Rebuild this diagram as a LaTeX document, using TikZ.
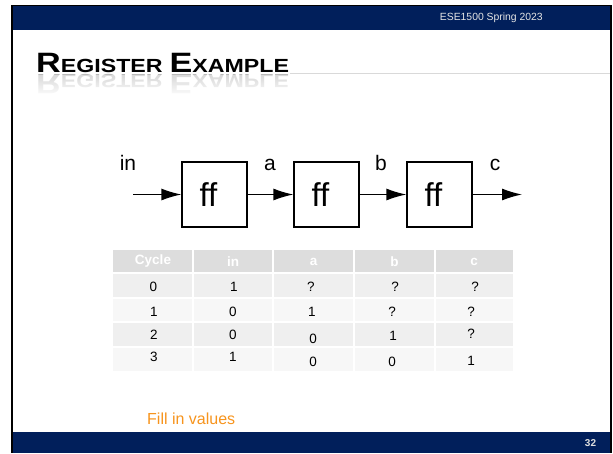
\documentclass[tikz,border=0pt]{standalone}
\usepackage{fontspec}
\setmainfont{Liberation Sans}
\newfontfamily\titlefont{Liberation Sans}[FakeStretch=1.22]
\usetikzlibrary{arrows.meta,fadings}

\definecolor{slidenavy}{RGB}{1,31,91}
\definecolor{hdrgray}{RGB}{221,221,221}
\definecolor{rowdark}{RGB}{239,239,239}
\definecolor{rowlight}{RGB}{247,247,247}
\definecolor{noteorange}{RGB}{247,148,29}
\tikzfading[name=reflectfade, top color=transparent!55, bottom color=transparent!0]

% small caps made of two sizes of the bold face
\newcommand{\scbig}[1]{{\fontsize{28}{28}\selectfont #1}}
\newcommand{\scsmall}[1]{{\fontsize{19}{19}\selectfont #1}}

\begin{document}
\begin{tikzpicture}[x=1pt, y=-1pt,
  ffbox/.style={draw, line width=1.3pt, minimum size=65pt, inner sep=0pt, font=\fontsize{33}{33}\selectfont,
    execute at begin node=\hspace*{-12pt}},
  wire/.style={line width=1.3pt, -{Latex[length=20pt, width=12pt]}},
  sig/.style={anchor=base, inner sep=0pt, font=\fontsize{21}{21}\selectfont},
  colhead/.style={inner sep=0pt, text=white, font=\fontsize{13.5}{13.5}\selectfont\bfseries},
  val/.style={inner sep=0pt, font=\fontsize{13.5}{13.5}\selectfont},
]
\useasboundingbox (0,0) rectangle (613,453);

% Slide frame and bars
\fill[black] (11,4.5) rectangle (612,453);
\fill[white] (13,6) rectangle (610,453);
\fill[slidenavy] (13,6) rectangle (610,30);
\fill[slidenavy] (13,432) rectangle (610,453);
\node[anchor=east, inner sep=0pt, text=gray!20, font=\fontsize{10.4}{10.4}\selectfont] (course) at (543,18) {ESE1500 Spring 2023};
\node[inner sep=0pt, text=gray!25, font=\fontsize{10}{10}\selectfont\bfseries] (pageno) at (590.5,443.5) {32};

% Title with its faded reflection
\draw[gray!30, line width=1pt] (290,73.5) -- (610,73.5);
\node[anchor=base west, inner sep=0pt, font=\titlefont\bfseries] (title) at (36,72.5)
  {\scbig{R}\scsmall{EGISTER}\hspace{7pt}\scbig{E}\scsmall{XAMPLE}};
\node[anchor=base west, inner sep=0pt, yscale=-1, text=gray!55, font=\titlefont\bfseries] (titlemirror) at (36,74.5)
  {\scbig{R}\scsmall{EGISTER}\hspace{7pt}\scbig{E}\scsmall{XAMPLE}};
\fill[white, path fading=reflectfade] (30,74.5) rectangle (300,97);

% Three flip-flops in a row
\node[ffbox] (ff1) at (214.5,194.5) {ff};
\node[ffbox] (ff2) at (326.5,194.5) {ff};
\node[ffbox] (ff3) at (439.5,194.5) {ff};
\coordinate (inport) at (133,194.5);
\coordinate (outport) at (522,194.5);
\draw[wire] (inport) -- (ff1);
\draw[wire] (ff1) -- (ff2);
\draw[wire] (ff2) -- (ff3);
\draw[wire] (ff3) -- (outport);
\node[sig] (lin) at (128,170) {in};
\node[sig] (la) at (270,170) {a};
\node[sig] (lb) at (381,170) {b};
\node[sig] (lc) at (495,170) {c};

% Table rows
\fill[hdrgray] (113,250) rectangle (513,273);
\fill[rowdark] (113,273) rectangle (513,298);
\fill[rowlight] (113,298) rectangle (513,322);
\fill[rowdark] (113,322) rectangle (513,347);
\fill[rowlight] (113,347) rectangle (513,371);
% white gaps between the cells
\draw[white, line width=1.5pt] (193,250) -- (193,371);
\draw[white, line width=1.5pt] (273,250) -- (273,371);
\draw[white, line width=1.5pt] (354,250) -- (354,371);
\draw[white, line width=1.5pt] (435,250) -- (435,371);
\draw[white, line width=1.5pt] (113,273) -- (513,273);
\draw[white, line width=1.5pt] (113,298) -- (513,298);
\draw[white, line width=1.5pt] (113,322) -- (513,322);
\draw[white, line width=1.5pt] (113,347) -- (513,347);

% Column heads
\node[colhead] (hcycle) at (153,261.5) {Cycle};
\node[colhead] (hin) at (233,261.5) {in};
\node[colhead] (ha) at (313.5,261.5) {a};
\node[colhead] (hb) at (394.5,261.5) {b};
\node[colhead] (hc) at (474,261.5) {c};

% Cycle 0
\node[val] (c0) at (153.5,287) {0};
\node[val] (in0) at (234,287) {1};
\node[val] (a0) at (311,287) {?};
\node[val] (b0) at (395,287) {?};
\node[val] (cc0) at (475,287) {?};
% Cycle 1
\node[val] (c1) at (154,311.5) {1};
\node[val] (in1) at (233,311.5) {0};
\node[val] (a1) at (312,311.5) {1};
\node[val] (b1) at (392,311.5) {?};
\node[val] (cc1) at (471,311.5) {?};
% Cycle 2
\node[val] (c2) at (154,334.5) {2};
\node[val] (in2) at (233,334.5) {0};
\node[val] (a2) at (313,339) {0};
\node[val] (b2) at (393,336) {1};
\node[val] (cc2) at (471,334) {?};
% Cycle 3
\node[val] (c3) at (154,357) {3};
\node[val] (in3) at (233,357) {1};
\node[val] (a3) at (313,362) {0};
\node[val] (b3) at (392,362) {0};
\node[val] (cc3) at (471,361) {1};

\node[anchor=base west, inner sep=0pt, text=noteorange, font=\fontsize{16}{16}\selectfont] (note) at (147,424) {Fill in values};
\end{tikzpicture}
\end{document}
